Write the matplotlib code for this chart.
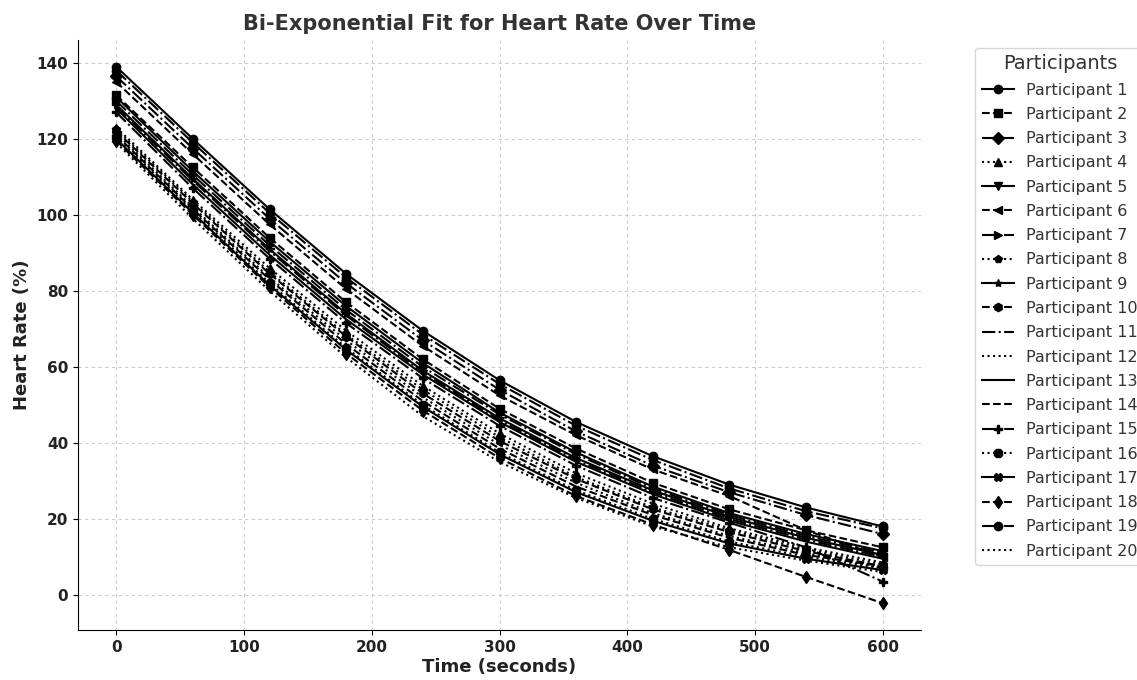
import matplotlib
matplotlib.use("Agg")
import matplotlib.pyplot as plt

time_s = [0, 60, 120, 180, 240, 300, 360, 420, 480, 540, 600]

participants = [f"Participant {i}" for i in range(1, 21)]

hr = {
    "Participant 1":  [139, 120, 101.5, 84.5, 69.5, 56.5, 45.5, 36.5, 29, 23, 18],
    "Participant 2":  [131.5, 112.5, 94, 77, 62, 49, 38.5, 29.5, 22.5, 17, 12.5],
    "Participant 3":  [136.5, 117.5, 99, 82, 67, 54, 43, 34, 27, 21, 16],
    "Participant 4":  [123, 104, 86, 69.5, 55, 42.5, 32, 24, 17.5, 12.5, 8.5],
    "Participant 5":  [131, 111.5, 93, 76, 61, 48, 37.5, 28.5, 21.5, 16, 11.5],
    "Participant 6":  [135, 116, 97.5, 80.5, 65.5, 52.5, 42, 33, 26, 17, 10],
    "Participant 7":  [130, 110.5, 92, 75, 60, 47.5, 37, 28, 21, 15.5, 11],
    "Participant 8":  [122.5, 103.5, 85, 68.5, 54, 41.5, 31, 23, 17, 12, 8],
    "Participant 9":  [129, 109.5, 91, 74, 59, 46.5, 36, 27.5, 20.5, 15, 10.5],
    "Participant 10": [122, 103, 84.5, 68, 53, 40.5, 30.5, 22.5, 16.5, 11.5, 7.5],
    "Participant 11": [128.5, 109, 90.5, 73.5, 58.5, 46, 35.5, 27, 20, 14.5, 10],
    "Participant 12": [121.5, 102, 83.5, 67, 52, 39.5, 29.5, 21.5, 15.5, 11, 7],
    "Participant 13": [128, 108, 89.5, 72.5, 58, 45.5, 35, 26.5, 19.5, 14, 9.5],
    "Participant 14": [121, 101.5, 83, 66, 51, 38.5, 28.5, 21, 15, 10.5, 7.5],
    "Participant 15": [127, 107, 88.5, 71.5, 57, 44.5, 34, 25.5, 19, 12.5, 3.5],
    "Participant 16": [120.5, 101, 82, 65, 50, 37.5, 27.5, 20, 14, 10, 7],
    "Participant 17": [120, 100.5, 81.5, 64.5, 49.5, 37, 27, 19.5, 13.5, 9.5, 6.5],
    "Participant 18": [119.5, 100, 81, 63.5, 48.5, 36, 26, 18.5, 11.8, 4.7, -2.2],
    "Participant 19": [138, 119, 100.5, 83.5, 68.5, 55.5, 44.5, 35.5, 28, 22, 17.5],
    "Participant 20": [119, 99, 80, 62.5, 47, 35, 25.5, 18, 12.5, 9, 6],
}

linestyles = ['-', '--', '-.', ':']
markers = ['o', 's', 'D', '^', 'v', '<', '>', 'p', '*', 'h',
           None, None, None, None, 'P', '8', 'X', 'd', 'o', None]

fig = plt.figure(figsize=(11.37, 6.8), dpi=100)
ax = fig.add_axes([78/1137, 1 - 630/680, (921-78)/1137, (630-40)/680])

for i, name in enumerate(participants):
    ax.plot(time_s, hr[name], color='black', linestyle=linestyles[i % 4],
            marker=markers[i], markersize=6, linewidth=1.5, label=name)

ax.set_title("Bi-Exponential Fit for Heart Rate Over Time", fontsize=15,
             fontweight='bold', color='#333333', pad=7)
ax.set_xlabel("Time (seconds)", fontsize=13, fontweight='bold', color='#222222',
              labelpad=2)
ax.set_ylabel("Heart Rate (%)", fontsize=13, fontweight='bold', color='#222222')
ax.set_xticks([0, 100, 200, 300, 400, 500, 600])
ax.set_yticks([0, 20, 40, 60, 80, 100, 120, 140])
for lab in ax.get_xticklabels() + ax.get_yticklabels():
    lab.set_fontweight('bold')
    lab.set_fontsize(11)
    lab.set_color('#222222')
ax.grid(True, linestyle=(0, (3, 3)), color='#cccccc', linewidth=0.8)
ax.set_axisbelow(True)
for s in ['top', 'right']:
    ax.spines[s].set_visible(False)

leg = ax.legend(title="Participants", loc='upper left', bbox_to_anchor=(1.055, 1.0),
                fontsize=11.5, title_fontsize=14, frameon=True, labelspacing=0.58)
for t in leg.get_texts():
    t.set_color('#333333')
leg.get_title().set_color('#333333')

fig.savefig("out.png", dpi=100)
